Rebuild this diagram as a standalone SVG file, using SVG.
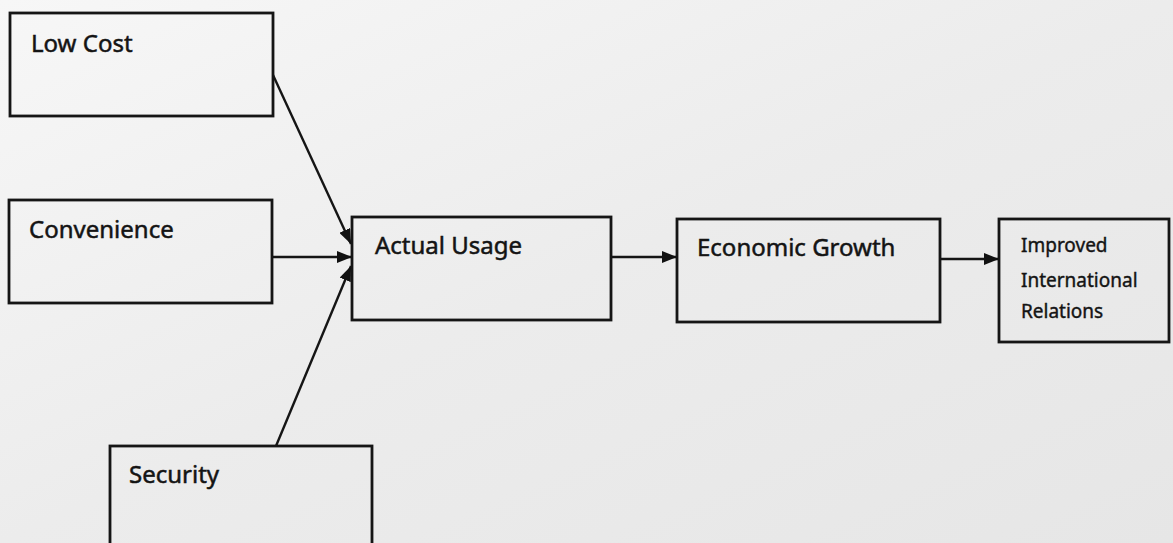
<svg xmlns="http://www.w3.org/2000/svg" width="1173" height="543" viewBox="0 0 1173 543">
<defs>
<linearGradient id="bg" x1="0" y1="0" x2="1" y2="1">
<stop offset="0" stop-color="#f7f7f7"/>
<stop offset="0.5" stop-color="#ececec"/>
<stop offset="1" stop-color="#e6e6e6"/>
</linearGradient>
<marker id="arr" viewBox="0 0 15 12" refX="15" refY="6" markerWidth="15" markerHeight="12" markerUnits="userSpaceOnUse" orient="auto">
<path d="M0,0 L15,6 L0,12 Z" fill="#111"/>
</marker>
<style>
.box{fill:none;stroke:#151515;stroke-width:2.8}
.lbl{font-family:"Noto Sans","Open Sans",sans-serif;font-size:24px;fill:#141414;stroke:#141414;stroke-width:0.5}
.sm{font-size:19px;stroke-width:0.4}
.conn line{stroke:#151515;stroke-width:2.4;marker-end:url(#arr)}
</style>
</defs>
<rect width="1173" height="543" fill="url(#bg)"/>
<g id="low-cost"><rect class="box" x="10" y="13" width="263" height="103"/><text class="lbl" x="31" y="52">Low Cost</text></g>
<g id="convenience"><rect class="box" x="9" y="200" width="263" height="103"/><text class="lbl" x="29" y="238">Convenience</text></g>
<g id="security"><rect class="box" x="110" y="446" width="262" height="110"/><text class="lbl" x="129" y="483">Security</text></g>
<g id="actual-usage"><rect class="box" x="352" y="217" width="259" height="103"/><text class="lbl" x="375" y="254">Actual Usage</text></g>
<g id="economic-growth"><rect class="box" x="677" y="219" width="263" height="103"/><text class="lbl" x="697" y="256">Economic Growth</text></g>
<g id="improved-relations"><rect class="box" x="999" y="219" width="170" height="123"/>
<text class="lbl sm" x="1021" y="252">Improved</text>
<text class="lbl sm" x="1021" y="287">International</text>
<text class="lbl sm" x="1021" y="318">Relations</text></g>
<g class="conn" id="connectors">
<line x1="273" y1="75" x2="351" y2="244"/>
<line x1="272" y1="257" x2="352" y2="257"/>
<line x1="276" y1="446" x2="351" y2="266"/>
<line x1="611" y1="257" x2="677" y2="257"/>
<line x1="940" y1="259" x2="999" y2="259"/>
</g>
</svg>
